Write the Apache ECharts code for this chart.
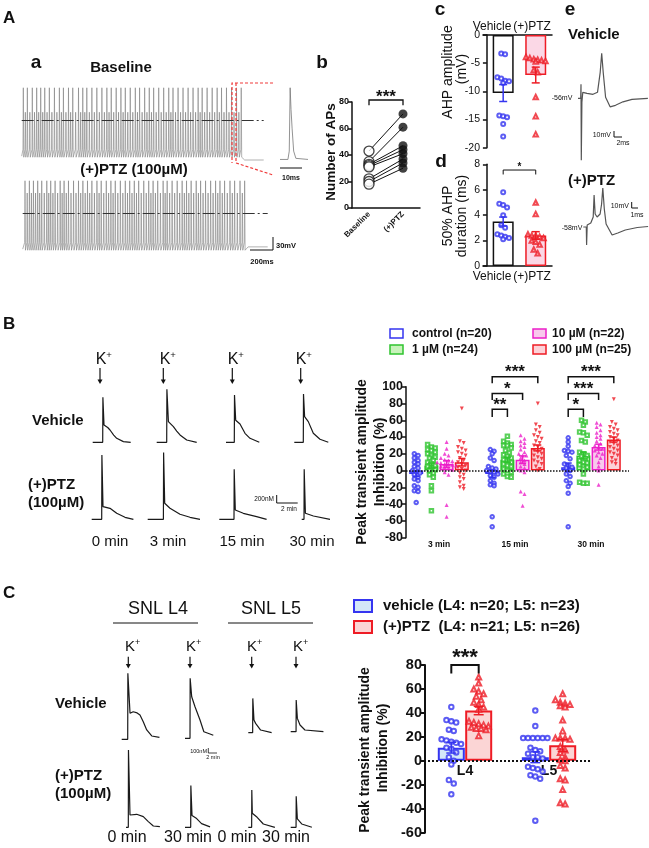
<!DOCTYPE html>
<html>
<head>
<meta charset="utf-8">
<script src="https://cdn.jsdelivr.net/npm/echarts@6/dist/echarts.min.js"></script>
<style>
  html, body { margin: 0; padding: 0; background: #fff; }
  #main { width: 649px; height: 848px; }
</style>
</head>
<body>
<div id="main"></div>
<script>
const FONT = '"Liberation Sans", Arial, Helvetica, sans-serif';
const INK = '#111';
const BLUE = '#3535f0', GREEN = '#2fc42f', MAG = '#ec1fc9', RED = '#ee1c25';

// ---- A(a): spike trains (spike times in ms)
const baseSpikeMs = [14, 49, 92, 130, 165, 200, 240, 284, 327, 362, 406, 443, 493, 530, 565, 609, 652, 696, 739, 777, 820, 861, 899, 942, 986, 1023, 1067, 1107, 1145, 1189, 1232, 1276, 1313, 1357, 1400, 1444, 1487, 1531, 1566, 1609, 1653, 1696, 1734, 1777, 1821, 1864, 1905];
const ptzSpikeMs = [20, 58, 93, 130, 165, 209, 243, 281, 325, 359, 397, 441, 484, 522, 562, 600, 644, 681, 725, 765, 803, 847, 890, 928, 968, 1006, 1050, 1093, 1131, 1171, 1218, 1253, 1296, 1340, 1383, 1421, 1461, 1505, 1543, 1586, 1630, 1673, 1711, 1751, 1798, 1838, 1885, 1925];
// inset spike [ms, mV]
const insetSpike = [[0, -70], [3.6, -70], [4.2, -55], [4.6, 59], [5.0, 20], [5.5, -15], [6.2, -55], [7.2, -68], [12.7, -70]];

// ---- A(b): number of APs, paired
const apGroups = ['Baseline', '(+)PTZ'];
const apBaseline = [43, 35, 33, 32, 31, 22, 20, 18];
const apPTZ = [71, 61, 47, 44, 41, 37, 34, 30];

// ---- A(c): AHP amplitude (mV)
const ahpGroups = ['Vehicle', '(+)PTZ'];
const ahpAmpMean = [-10.3, -7.1];
const ahpAmpSem = [1.5, 1.4];
const ahpAmpVeh = [-3.4, -3.3, -7.5, -7.7, -8.1, -8.2, -8.5, -14.3, -14.4, -14.6, -15.8, -18];
const ahpAmpPTZ = [-3.9, -4.1, -4.3, -4.4, -4.5, -4.6, -4.7, -6.2, -6.6, -11, -14.4, -17.6];

// ---- A(d): 50% AHP duration (ms)
const ahpDurMean = [3.5, 2.4];
const ahpDurSem = [0.35, 0.3];
const ahpDurVeh = [5.8, 4.9, 4.8, 4.6, 4.0, 3.2, 3.0, 2.5, 2.4, 2.2, 2.1, 2.3];
const ahpDurPTZ = [5.0, 4.1, 2.5, 2.4, 2.4, 2.3, 2.2, 2.0, 1.9, 1.7, 1.3, 1.0];

// ---- A(e): single AP traces [ms, mV]
const vehAP = [[0, -56], [0.9, -56], [1.0, -42], [1.1, -118], [1.3, -60], [1.6, -50], [3, -51], [5, -52], [6.5, -50], [7.4, -30], [7.9, -11], [8.4, -30], [9.2, -55], [10.7, -64.5], [12.5, -63], [15, -59.5], [18, -57], [23.3, -56]];
const ptzAP = [[0, -58], [1.0, -58], [1.1, -76], [1.3, -56], [2.5, -54], [3.3, -48], [3.6, -26], [3.95, -45], [4.6, -48], [5.6, -45], [6.1, -35], [6.5, -19], [7.0, -40], [7.6, -55], [9.6, -66], [11.5, -64], [14, -61], [18, -58.5], [21.6, -57.5]];

// ---- B: Ca transients [min, nM above baseline]
const vehB0 = [[0, 0], [1.0, 0], [1.02, 1125], [1.13, 433], [1.5, 370], [1.73, 308], [2.1, 180], [2.4, 100], [3.07, 17], [3.8, 0]];
const vehB3 = [[0, 0], [1.0, 0], [1.02, 1325], [1.17, 517], [1.67, 392], [2.0, 280], [2.33, 183], [3.0, 58], [4.0, 0]];
const vehB15 = [[0, 0], [0.83, 0], [0.85, 1183], [0.97, 550], [1.4, 458], [1.9, 225], [2.4, 100], [3.33, 0]];
const vehB30 = [[0, 0], [0.9, 0], [0.92, 1208], [1.03, 642], [1.4, 517], [1.9, 225], [2.57, 75], [3.4, 0]];
const ptzB0 = [[0, 0], [1.0, 0], [1.02, 1608], [1.13, 317], [1.83, 275], [2.5, 150], [3.33, 50], [4.17, 0]];
const ptzB3 = [[0, 0], [1.57, 0], [1.59, 1667], [1.7, 400], [2.23, 275], [3.23, 125], [4.23, 50], [5.23, 0]];
const ptzB15 = [[0, 0], [1.47, 0], [1.49, 1250], [1.6, 233], [2.4, 150], [3.73, 67], [4.73, 0]];
const ptzB30 = [[0, 0], [0.23, 0], [0.25, 1250], [0.37, 150], [1.17, 83], [2.83, 0]];

// ---- B: peak transient amplitude inhibition (%)
const timeLabels = ['3 min', '15 min', '30 min'];
const doseLabels = ['control (n=20)', '1 µM (n=24)', '10 µM (n=22)', '100 µM (n=25)'];
const ctrlMean = [-4, -4, 4], ctrlSem = [3, 4.5, 5];
const d1Mean = [6, 13, 18], d1Sem = [3, 3, 4];
const d10Mean = [8, 13, 28], d10Sem = [4, 4.5, 3.5];
const d100Mean = [10, 27, 37], d100Sem = [4.5, 3.5, 3];
const ctrlPts = [
  [20, 18, 15, 12, 10, 8, 5, 3, 0, -2, -3, -5, -8, -10, -12, -18, -20, -24, -25, -38],
  [25, 23, 20, 15, 12, 5, 3, 2, 0, -1, -2, -4, -6, -8, -12, -15, -17, -18, -55, -67],
  [39, 34, 29, 24, 23, 22, 18, 14, 8, 6, 4, 3, 0, -4, -7, -12, -15, -19, -27, -67]
];
const d1Pts = [
  [31, 28, 27, 25, 24, 22, 20, 18, 16, 15, 12, 10, 8, 6, 5, 3, 1, 0, -3, -5, -8, -18, -24, -48],
  [41, 35, 33, 31, 30, 30, 27, 24, 21, 19, 17, 15, 13, 12, 10, 8, 6, 5, 2, 0, -2, -4, -7, -8],
  [60, 58, 54, 46, 45, 42, 36, 34, 22, 20, 18, 17, 14, 12, 10, 9, 7, 5, 4, 2, -4, -14, -15, -15]
];
const d10Pts = [
  [34, 26, 20, 18, 15, 13, 12, 11, 10, 9, 8, 8, 7, 6, 5, 4, 3, 1, -2, -5, -41, -55],
  [42, 38, 35, 33, 30, 28, 25, 22, 20, 18, 18, 15, 12, 10, 8, 5, 3, 0, -2, -25, -28, -42],
  [57, 55, 52, 48, 45, 42, 40, 38, 35, 32, 30, 28, 26, 24, 22, 20, 18, 15, 10, 5, 0, -17]
];
const d100Pts = [
  [74, 35, 33, 28, 26, 24, 22, 20, 18, 15, 12, 10, 8, 6, 4, 2, 0, -3, -5, -8, -10, -14, -18, -20, -22],
  [80, 55, 52, 48, 45, 42, 40, 38, 35, 33, 30, 28, 26, 24, 22, 20, 18, 16, 14, 12, 10, 8, 5, 2, 0],
  [85, 58, 55, 52, 50, 48, 46, 44, 42, 40, 38, 36, 34, 32, 30, 28, 26, 24, 22, 20, 18, 15, 12, 10, 8]
];

// ---- C: Ca transients in SNL DRG [min, nM above baseline]
const vehC4a = [[0, 0], [1.56, 0], [1.6, 1650], [2.16, 650], [3.0, 690], [4.0, 660], [4.75, 608], [5.6, 440], [6.5, 233], [7.8, 83], [9.8, 50]];
const vehC4b = [[0, 0], [1.3, 0], [1.34, 1500], [1.74, 1040], [2.6, 790], [3.9, 458], [4.9, 165], [6.5, 108], [7.35, 75]];
const vehC5a = [[0, 0], [1.13, 0], [1.17, 858], [1.47, 317], [1.9, 233], [3.2, 67], [6.06, 0]];
const vehC5b = [[0, 0], [1.39, 0], [1.43, 792], [1.73, 333], [2.42, 167], [3.7, 42], [8.5, 0]];
const ptzC4a = [[0, 0], [0.6, 0], [0.64, 1933], [1.04, 308], [2.77, 325], [4.5, 267], [5.8, 142], [7.1, 33], [8.8, 17]];
const ptzC4b = [[0, 0], [1.48, 0], [1.52, 1042], [1.82, 292], [3.03, 217], [4.3, 92], [6.5, 12]];
const ptzC5a = [[0, 0], [0.87, 0], [0.91, 933], [1.04, 350], [2.3, 250], [3.9, 83], [6.9, 0]];
const ptzC5b = [[0, 0], [1.39, 0], [1.43, 775], [1.73, 208], [2.86, 83], [5.5, 0]];

// ---- C: inhibition (%)
const snlGroups = ['L4', 'L5'];
const snlVehMean = [11, 3], snlVehSem = [4.5, 4.5];
const snlPTZMean = [42, 13], snlPTZSem = [3.5, 5];
const snlVehPts = [
  [45, 34, 33, 32, 26, 25, 18, 17, 16, 15, 14, 11, 10, 7, 3, 0, -3, -16, -19, -28],
  [42, 29, 19, 19, 19, 19, 19, 19, 11, 9, 8, 6, 3, 3, 2, -5, -6, -7, -9, -12, -13, -15, -50]
];
const snlPTZPts = [
  [70, 65, 60, 58, 56, 54, 51, 49, 47, 45, 43, 33, 32, 31, 30, 29, 28, 27, 27, 26, 21],
  [56, 51, 49, 48, 47, 46, 45, 34, 25, 19, 19, 19, 18, 12, 9, 7, 3, 1, 0, -4, -6, -15, -16, -24, -35, -36]
];

// ------------------------------------------------------------------
const grid = [], xAxis = [], yAxis = [], series = [], graphic = [];

function panel(rect, xa, ya) {
  const g = grid.length;
  grid.push(rect);
  xa.gridIndex = g; ya.gridIndex = g;
  xAxis.push(xa); yAxis.push(ya);
  return { g: g, x: xAxis.length - 1, y: yAxis.length - 1 };
}

function trace(left, top, w, h, xr, yr, data, color, lw) {
  const p = panel({ left: left, top: top, width: w, height: h },
    { type: 'value', min: xr[0], max: xr[1], show: false },
    { type: 'value', min: yr[0], max: yr[1], show: false });
  const s = { type: 'line', xAxisIndex: p.x, yAxisIndex: p.y, data: data, symbol: 'none', silent: true, clip: false,
    lineStyle: { color: color, width: lw } };
  series.push(s);
  return s;
}

// calcium trace: own little grid, baseline sits 5px above the grid bottom
function caTrace(left, baseY, data, pxPerMin, h) {
  const w = 60, nM = 25;
  trace(left, baseY - (h - 5), w, h, [0, w / pxPerMin], [-5 * nM, (h - 5) * nM], data, '#1a1a1a', 1.2);
}

function spikeTrain(times, tall, small, endV, endT) {
  const d = [[0, -64]];
  times.forEach(function (t, i) {
    d.push([t - 3, -52], [t, tall], [t + 4, -66]);
    const nx = times[i + 1];
    if (nx) {
      const m = (t + nx) / 2;
      d.push([m - 3, -52], [m, small], [m + 4, -66]);
    }
  });
  const last = times[times.length - 1];
  d.push([last + 30, endV], [endT, endV]);
  return d;
}

function yAx(min, max, interval, fs, bold, lw) {
  return { type: 'value', min: min, max: max, interval: interval,
    axisLine: { show: true, lineStyle: { color: INK, width: lw } },
    axisTick: { show: true, length: 4, lineStyle: { color: INK, width: lw } },
    axisLabel: { fontSize: fs, fontWeight: bold ? 'bold' : 'normal', color: INK, margin: 3, fontFamily: FONT },
    splitLine: { show: false } };
}

// rows of near-equal values spread sideways, like a scatter dot plot
function swarm(vals, cx, step, gap) {
  const s = vals.slice().sort(function (a, b) { return b - a; });
  const out = [];
  let row = [];
  function flush() {
    row.forEach(function (v, j) { out.push([cx + (j - (row.length - 1) / 2) * step, v]); });
    row = [];
  }
  s.forEach(function (v) { if (row.length && row[0] - v > gap) flush(); row.push(v); });
  flush();
  return out;
}

function errSeries(p, data, color, cap, lw) {
  series.push({ type: 'custom', xAxisIndex: p.x, yAxisIndex: p.y, data: data, silent: true, z: 4,
    renderItem: function (params, api) {
      const x = api.value(0), m = api.value(1), s = api.value(2);
      const a = api.coord([x, m + s]), b = api.coord([x, m - s]);
      const st = { stroke: color, lineWidth: lw };
      return { type: 'group', children: [
        { type: 'line', shape: { x1: a[0], y1: a[1], x2: b[0], y2: b[1] }, style: st },
        { type: 'line', shape: { x1: a[0] - cap, y1: a[1], x2: a[0] + cap, y2: a[1] }, style: st },
        { type: 'line', shape: { x1: b[0] - cap, y1: b[1], x2: b[0] + cap, y2: b[1] }, style: st }
      ] };
    } });
}

// brackets: [x1, x2, yLine, yTickEnd, label]
function brackets(p, items, lw, fs, dy) {
  series.push({ type: 'custom', xAxisIndex: p.x, yAxisIndex: p.y, silent: true, z: 6,
    data: items.map(function (b) { return b.slice(0, 4); }),
    renderItem: function (params, api) {
      const a = api.coord([api.value(0), api.value(3)]), b = api.coord([api.value(0), api.value(2)]);
      const c = api.coord([api.value(1), api.value(2)]), d = api.coord([api.value(1), api.value(3)]);
      return { type: 'group', children: [
        { type: 'polyline', shape: { points: [a, b, c, d] }, style: { stroke: INK, lineWidth: lw, fill: null } },
        { type: 'text', x: (b[0] + c[0]) / 2, y: b[1] + dy,
          style: { text: items[params.dataIndex][4], fontSize: fs, fontWeight: 'bold', fontFamily: FONT, fill: INK, align: 'center', verticalAlign: 'middle' } }
      ] };
    } });
}

function zeroLine(x0, x1, lw) {
  return { silent: true, symbol: ['none', 'none'], label: { show: false },
    lineStyle: { color: INK, width: lw, type: 'dotted' }, data: [[{ coord: [x0, 0] }, { coord: [x1, 0] }]] };
}

function txt(s, x, y, fs, weight, align, rot) {
  graphic.push({ type: 'text', x: x, y: y, rotation: rot || 0, silent: true, z: 20,
    style: { text: s, fontSize: fs, fontWeight: weight || 'normal', fontFamily: FONT, fill: INK,
      align: align || 'center', verticalAlign: 'middle' } });
}
function pline(points, color, lw, dash) {
  graphic.push({ type: 'polyline', silent: true, z: 20, shape: { points: points },
    style: { stroke: color, lineWidth: lw, fill: null, lineDash: dash || null } });
}
function rect(x, y, w, h, fill, stroke, lw) {
  graphic.push({ type: 'rect', silent: true, z: 20, shape: { x: x, y: y, width: w, height: h },
    style: { fill: fill, stroke: stroke, lineWidth: lw } });
}
function arrow(x, y1, y2) {
  pline([[x, y1], [x, y2 - 3]], INK, 1.2);
  graphic.push({ type: 'polygon', silent: true, z: 20, shape: { points: [[x - 2.5, y2 - 4.5], [x + 2.5, y2 - 4.5], [x, y2]] }, style: { fill: INK } });
}
function kPlus(x, y, fs) {
  txt('K', x - 2, y, fs, 'normal', 'center');
  txt('+', x + fs * 0.38, y - fs * 0.3, fs * 0.6, 'normal', 'center');
}

// ================= Panel A =================
txt('A', 3, 18, 17, 'bold', 'left');
txt('a', 36, 63, 19, 'bold');
txt('b', 322, 63, 19, 'bold');
txt('c', 440, 10, 19, 'bold');
txt('d', 441, 162, 19, 'bold');
txt('e', 570, 10, 19, 'bold');

// (a) spike trains
txt('Baseline', 121, 68, 15, 'bold');
txt('(+)PTZ (100µM)', 134, 170, 15, 'bold');
const dashDot = { silent: true, symbol: ['none', 'none'], label: { show: false },
  lineStyle: { color: '#333', width: 1, type: [12, 3, 2, 3] }, data: [{ yAxis: 0 }] };
trace(21.7, 80, 242, 85, [0, 2100], [-80, 73], spikeTrain(baseSpikeMs, 59, 15, -71, 2100), '#7d7d7d', 0.6).markLine = dashDot;
trace(22.7, 173, 245, 85, [0, 2125], [-80, 73], spikeTrain(ptzSpikeMs, 59, 37, -60, 2125), '#7d7d7d', 0.6).markLine = dashDot;
trace(280, 80, 28, 85, [0, 12.7], [-80, 73], insetSpike, '#777', 0.8);
pline([[273, 83], [232, 83], [232, 163]], '#f03a3a', 1.2, [3, 2]);
pline([[236, 83], [236, 163], [273, 175]], '#f03a3a', 1.2, [3, 2]);
pline([[280, 168], [302, 168]], INK, 1);
txt('10ms', 291, 178, 7, 'bold');
pline([[273, 237], [273, 250], [250, 250]], INK, 1);
txt('30mV', 276, 246, 7.5, 'bold', 'left');
txt('200ms', 262, 262, 7.5, 'bold');

// (b) number of APs
const pb = panel({ left: 352, top: 102, width: 68, height: 106 },
  { type: 'category', data: apGroups, boundaryGap: true,
    axisLine: { lineStyle: { color: INK, width: 1.5 } }, axisTick: { show: false },
    axisLabel: { rotate: 45, fontSize: 8, fontWeight: 'bold', color: INK, margin: 5, interval: 0, fontFamily: FONT } },
  yAx(0, 80, 20, 9, true, 1.5));
apBaseline.forEach(function (v, i) {
  series.push({ type: 'line', xAxisIndex: pb.x, yAxisIndex: pb.y, data: [[0, v], [1, apPTZ[i]]], symbol: 'none', silent: true,
    lineStyle: { color: INK, width: 1 } });
});
series.push({ type: 'scatter', xAxisIndex: pb.x, yAxisIndex: pb.y, data: apBaseline.map(function (v) { return [0, v]; }),
  symbol: 'circle', symbolSize: 10, itemStyle: { color: '#fff', borderColor: INK, borderWidth: 1.3 }, silent: true, z: 3 });
series.push({ type: 'scatter', xAxisIndex: pb.x, yAxisIndex: pb.y, data: apPTZ.map(function (v) { return [1, v]; }),
  symbol: 'circle', symbolSize: 9, itemStyle: { color: INK }, silent: true, z: 3 });
brackets(pb, [[0, 1, 81.5, 77.5, '***']], 1.3, 17, -2.4);
txt('Number of APs', 331, 152, 13.5, 'bold', 'center', Math.PI / 2);

// (c) and (d) bar + dot plots
function twoBar(p, means, sems, vehPts, ptzPts, step, gap) {
  series.push({ type: 'bar', xAxisIndex: p.x, yAxisIndex: p.y, data: [[0.5, means[0]]], barWidth: 21, barGap: '-100%', silent: true,
    itemStyle: { color: '#fff', borderColor: INK, borderWidth: 1.5 } });
  series.push({ type: 'bar', xAxisIndex: p.x, yAxisIndex: p.y, data: [[1.5, means[1]]], barWidth: 21, barGap: '-100%', silent: true,
    itemStyle: { color: '#fbd8e6', borderColor: RED, borderWidth: 1.5 } });
  series.push({ type: 'scatter', xAxisIndex: p.x, yAxisIndex: p.y, data: swarm(vehPts, 0.5, step, gap), symbol: 'emptyCircle', symbolSize: 4,
    itemStyle: { color: BLUE, borderWidth: 1.2 }, silent: true, z: 3 });
  series.push({ type: 'scatter', xAxisIndex: p.x, yAxisIndex: p.y, data: swarm(ptzPts, 1.5, step, gap), symbol: 'emptyTriangle', symbolSize: 4.5,
    itemStyle: { color: RED, borderWidth: 1 }, silent: true, z: 3 });
  errSeries(p, [[0.5, means[0], sems[0]]], BLUE, 4, 1.5);
  errSeries(p, [[1.5, means[1], sems[1]]], RED, 4, 1.5);
}
const xTwo = function () {
  return { type: 'value', min: -0.12, max: 2,
    axisLine: { show: true, onZero: true, lineStyle: { color: INK, width: 1.5 } },
    axisTick: { show: false }, axisLabel: { show: false }, splitLine: { show: false } };
};
const pc = panel({ left: 483, top: 35, width: 69, height: 112.7 }, xTwo(), yAx(-20, 0, 5, 10.5, false, 1.5));
twoBar(pc, ahpAmpMean, ahpAmpSem, ahpAmpVeh, ahpAmpPTZ, 0.12, 0.8);
txt(ahpGroups[0], 492, 27, 12);
txt(ahpGroups[1], 532, 27, 12);
txt('AHP amplitude', 448, 72, 14, 'normal', 'center', Math.PI / 2);
txt('(mV)', 462, 69, 14, 'normal', 'center', Math.PI / 2);

const pd = panel({ left: 483, top: 164.3, width: 69, height: 101.7 }, xTwo(), yAx(0, 8, 2, 10.5, false, 1.5));
twoBar(pd, ahpDurMean, ahpDurSem, ahpDurVeh, ahpDurPTZ, 0.12, 0.35);
brackets(pd, [[0.5, 1.5, 7.55, 7.2, '*']], 1, 10, -2.3);
txt(ahpGroups[0], 492, 277, 12);
txt(ahpGroups[1], 532, 277, 12);
txt('50% AHP', 448, 216, 14, 'normal', 'center', Math.PI / 2);
txt('duration (ms)', 462, 216, 14, 'normal', 'center', Math.PI / 2);

// (e) single APs
txt('Vehicle', 568, 35, 15, 'bold', 'left');
trace(578, 45, 71, 120, [0, 23.67], [-122.7, -2.7], vehAP, '#555', 1.2);
txt('-56mV', 562, 98, 7);
pline([[614, 131], [614, 137], [622, 137]], INK, 1);
txt('10mV', 611, 135, 7, 'normal', 'right');
txt('2ms', 623, 143, 7);
txt('(+)PTZ', 568, 181, 15, 'bold', 'left');
trace(583.3, 180, 65.7, 70, [0, 21.9], [-81, -11], ptzAP, '#555', 1.2);
txt('-58mV', 572, 228, 7);
pline([[631.7, 202], [631.7, 208], [638, 208]], INK, 1);
txt('10mV', 629, 206, 7, 'normal', 'right');
txt('1ms', 637, 215, 7);

// ================= Panel B =================
txt('B', 3, 324, 17, 'bold', 'left');
[103, 167, 235, 303].forEach(function (x) { kPlus(x, 360, 16); });
[100, 163.3, 232.3, 300.7].forEach(function (x) { arrow(x, 368, 384); });
txt('Vehicle', 32, 421, 15, 'bold', 'left');
txt('(+)PTZ', 28, 485, 15, 'bold', 'left');
txt('(100µM)', 28, 503, 15, 'bold', 'left');
caTrace(92.7, 442.3, vehB0, 10, 80);
caTrace(156.7, 442.3, vehB3, 10, 80);
caTrace(226, 442.3, vehB15, 10, 80);
caTrace(294.3, 442.3, vehB30, 10, 80);
caTrace(91.7, 519.3, ptzB0, 10, 80);
caTrace(147.7, 519.3, ptzB3, 10, 80);
caTrace(219.3, 519.3, ptzB15, 10, 80);
caTrace(301.7, 519.3, ptzB30, 10, 80);
pline([[276.7, 495], [276.7, 503], [297.7, 503]], INK, 1);
txt('200nM', 274, 499, 6.5, 'normal', 'right');
txt('2 min', 289, 509, 6.5);
txt('0 min', 110, 542, 15);
txt('3 min', 168, 542, 15);
txt('15 min', 242, 542, 15);
txt('30 min', 312, 542, 15);

// B chart
const doseFill = ['rgba(255,255,255,0)', '#c8f3bb', '#f8c9ec', '#fcd2d8'];
const doseStroke = [BLUE, GREEN, MAG, RED];
const doseSym = ['emptyCircle', 'emptyRect', 'triangle', 'triangle'];
const doseRot = [0, 0, 0, 180];
const pB = panel({ left: 401, top: 386.7, width: 228, height: 151 },
  { type: 'value', min: 0, max: 3, show: false, axisLine: { onZero: false } },
  Object.assign(yAx(-80, 100, 20, 12.5, true, 1.5), { offset: -5 }));
xAxis.push({ gridIndex: pB.g, type: 'category', data: timeLabels, position: 'bottom',
  axisLine: { show: false, onZero: false }, axisTick: { show: false },
  axisLabel: { fontSize: 8.5, fontWeight: 'bold', color: INK, margin: 2, fontFamily: FONT } });
[ctrlMean, d1Mean, d10Mean, d100Mean].forEach(function (means, k) {
  const off = (k - 1.5) * 0.2;
  const s = { type: 'bar', xAxisIndex: pB.x, yAxisIndex: pB.y, barWidth: 14, barGap: '-100%', silent: true,
    data: means.map(function (m, i) { return [i + 0.5 + off, m]; }),
    itemStyle: { color: doseFill[k], borderColor: doseStroke[k], borderWidth: 1.5 } };
  if (k === 0) s.markLine = zeroLine(0.066, 3, 1.5);
  series.push(s);
});
[ctrlPts, d1Pts, d10Pts, d100Pts].forEach(function (pts, k) {
  const off = (k - 1.5) * 0.2;
  pts.forEach(function (vals, i) {
    series.push({ type: 'scatter', xAxisIndex: pB.x, yAxisIndex: pB.y, silent: true, z: 3,
      data: swarm(vals, i + 0.5 + off, 0.05, 4), symbol: doseSym[k], symbolRotate: doseRot[k], symbolSize: k >= 2 ? 4 : 3.5,
      itemStyle: { color: doseStroke[k], borderWidth: 1 } });
  });
});
[[ctrlMean, ctrlSem], [d1Mean, d1Sem], [d10Mean, d10Sem], [d100Mean, d100Sem]].forEach(function (ms, k) {
  const off = (k - 1.5) * 0.2;
  errSeries(pB, ms[0].map(function (m, i) { return [i + 0.5 + off, m, ms[1][i]]; }), doseStroke[k], 3.5, 1.5);
});
brackets(pB, [
  [1.2, 1.4, 73, 64, '**'], [1.2, 1.6, 92, 84, '*'], [1.2, 1.8, 112, 104, '***'],
  [2.2, 2.4, 73, 64, '*'], [2.2, 2.6, 92, 84, '***'], [2.2, 2.8, 112, 104, '***']
], 1.5, 17, -4.4);
txt('Peak transient amplitude', 362, 462, 14, 'bold', 'center', Math.PI / 2);
txt('Inhibition (%)', 380, 462, 14, 'bold', 'center', Math.PI / 2);
// legend
rect(390, 329, 13, 9, doseFill[0], doseStroke[0], 1.5);
rect(390, 345, 13, 9, doseFill[1], doseStroke[1], 1.5);
rect(533, 329, 13, 9, doseFill[2], doseStroke[2], 1.5);
rect(533, 345, 13, 9, doseFill[3], doseStroke[3], 1.5);
txt(doseLabels[0], 412, 334, 12, 'bold', 'left');
txt(doseLabels[1], 412, 350, 12, 'bold', 'left');
txt(doseLabels[2], 552, 334, 12, 'bold', 'left');
txt(doseLabels[3], 552, 350, 12, 'bold', 'left');

// ================= Panel C =================
txt('C', 3, 593, 17, 'bold', 'left');
txt('SNL L4', 158, 609, 18);
txt('SNL L5', 271, 609, 18);
pline([[113, 623], [198, 623]], INK, 1);
pline([[228, 623], [313, 623]], INK, 1);
[132, 193, 254, 300].forEach(function (x) { kPlus(x, 647, 15); });
[128.3, 190, 251.7, 296].forEach(function (x) { arrow(x, 656.7, 668.5); });
txt('Vehicle', 55, 704, 15, 'bold', 'left');
txt('(+)PTZ', 55, 776, 15, 'bold', 'left');
txt('(100µM)', 55, 794, 15, 'bold', 'left');
caTrace(121.7, 739.3, vehC4a, 3.85, 90);
caTrace(185, 738.3, vehC4b, 3.85, 90);
caTrace(248.3, 732.7, vehC5a, 3.85, 90);
caTrace(290.7, 731.7, vehC5b, 3.85, 90);
caTrace(126, 827.3, ptzC4a, 3.85, 90);
caTrace(185, 827.3, ptzC4b, 3.85, 90);
caTrace(248.3, 827.3, ptzC5a, 3.85, 90);
caTrace(290.7, 827.3, ptzC5b, 3.85, 90);
pline([[208.3, 748], [208.3, 753], [217, 753]], INK, 0.8);
txt('100nM', 207, 751, 5.5, 'normal', 'right');
txt('2 min', 213, 757, 5.5);
txt('0 min', 127, 838, 16);
txt('30 min', 188, 838, 16);
txt('0 min', 237, 838, 16);
txt('30 min', 286, 838, 16);

// C chart: group labels sit just under the zero line
const pC = panel({ left: 423, top: 665, width: 168, height: 167.7 },
  { type: 'value', min: 0, max: 2, show: false, axisLine: { onZero: false } },
  Object.assign(yAx(-60, 80, 20, 14.5, true, 2), { offset: -2 }));
xAxis.push({ gridIndex: pC.g, type: 'category', data: snlGroups, position: 'bottom',
  axisLine: { show: false, onZero: false }, axisTick: { show: false },
  axisLabel: { fontSize: 14, fontWeight: 'bold', color: INK, margin: -69, fontFamily: FONT } });
series.push({ type: 'bar', xAxisIndex: pC.x, yAxisIndex: pC.y, barWidth: 27, barGap: '-100%', silent: true,
  data: snlVehMean.map(function (m, i) { return [i + 0.337, m]; }),
  itemStyle: { color: '#d4e7f8', borderColor: BLUE, borderWidth: 2 },
  markLine: zeroLine(0.012, 2, 2) });
series.push({ type: 'bar', xAxisIndex: pC.x, yAxisIndex: pC.y, barWidth: 27, barGap: '-100%', silent: true,
  data: snlPTZMean.map(function (m, i) { return [i + 0.663, m]; }),
  itemStyle: { color: '#fbd5d5', borderColor: RED, borderWidth: 2 } });
snlVehPts.forEach(function (vals, i) {
  series.push({ type: 'scatter', xAxisIndex: pC.x, yAxisIndex: pC.y, silent: true, z: 3,
    data: swarm(vals, i + 0.337, 0.058, 4), symbol: 'emptyCircle', symbolSize: 4.5, itemStyle: { color: BLUE, borderWidth: 1.2 } });
});
snlPTZPts.forEach(function (vals, i) {
  series.push({ type: 'scatter', xAxisIndex: pC.x, yAxisIndex: pC.y, silent: true, z: 3,
    data: swarm(vals, i + 0.663, 0.058, 4), symbol: 'emptyTriangle', symbolSize: 5, itemStyle: { color: RED, borderWidth: 1.1 } });
});
errSeries(pC, snlVehMean.map(function (m, i) { return [i + 0.337, m, snlVehSem[i]]; }), BLUE, 5, 1.5);
errSeries(pC, snlPTZMean.map(function (m, i) { return [i + 0.663, m, snlPTZSem[i]]; }), RED, 5, 1.5);
brackets(pC, [[0.337, 0.663, 80, 73, '***']], 2, 22, -7);
txt('Peak transient amplitude', 365, 750, 14, 'bold', 'center', Math.PI / 2);
txt('Inhibition (%)', 383, 748, 14, 'bold', 'center', Math.PI / 2);
rect(354, 600, 18, 12, '#d4e7f8', BLUE, 2);
rect(354, 621, 18, 12, '#fbd5d5', RED, 2);
txt('vehicle (L4: n=20; L5: n=23)', 383, 606, 15, 'bold', 'left');
txt('(+)PTZ  (L4: n=21; L5: n=26)', 383, 627, 15, 'bold', 'left');

const chart = echarts.init(document.getElementById('main'));
chart.setOption({
  animation: false,
  backgroundColor: '#fff',
  textStyle: { fontFamily: FONT },
  grid: grid,
  xAxis: xAxis,
  yAxis: yAxis,
  series: series,
  graphic: graphic
});
</script>
</body>
</html>
